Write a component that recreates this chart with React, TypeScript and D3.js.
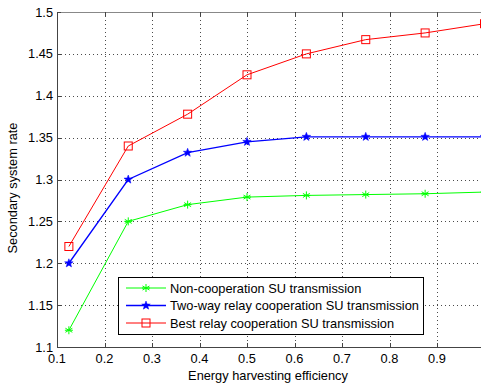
import React from "react";
import * as d3 from "d3";

const xValues = [0.125, 0.25, 0.375, 0.5, 0.625, 0.75, 0.875, 1.0];
const nonCoop = [1.12, 1.25, 1.27, 1.279, 1.281, 1.282, 1.283, 1.285];
const twoWay = [1.2, 1.3, 1.332, 1.345, 1.351, 1.351, 1.351, 1.351];
const bestRelay = [1.22, 1.34, 1.378, 1.425, 1.45, 1.467, 1.475, 1.486];
const xTicks = [0.1, 0.2, 0.3, 0.4, 0.5, 0.6, 0.7, 0.8, 0.9];
const yTicks = [1.1, 1.15, 1.2, 1.25, 1.3, 1.35, 1.4, 1.45, 1.5];
const seriesNames = [
  "Non-cooperation SU transmission",
  "Two-way relay cooperation SU transmission",
  "Best relay cooperation SU transmission",
];

const W = 481, H = 383;
const L = 57, T = 12, B = 347;
const x = d3.scaleLinear().domain([0.1, 1.0]).range([L, 484.5]);
const y = d3.scaleLinear().domain([1.1, 1.5]).range([B, T]);
const font = "'Liberation Sans', Arial, sans-serif";

function Marker({ kind, cx, cy, color }: { kind: string; cx: number; cy: number; color: string }) {
  if (kind === "square") {
    return <rect x={cx - 4} y={cy - 4} width={8} height={8} fill="none" stroke={color} strokeWidth={1} />;
  }
  if (kind === "asterisk") {
    const r = 4;
    const segs = [0, 60, 120].map((a) => {
      const rad = (a * Math.PI) / 180;
      return { dx: r * Math.sin(rad), dy: r * Math.cos(rad) };
    });
    return (
      <g stroke={color} strokeWidth={1}>
        {segs.map((s, i) => (
          <line key={i} x1={cx - s.dx} y1={cy - s.dy} x2={cx + s.dx} y2={cy + s.dy} />
        ))}
        <line x1={cx - r} y1={cy} x2={cx + r} y2={cy} />
      </g>
    );
  }
  const pts: string[] = [];
  for (let i = 0; i < 10; i++) {
    const r = i % 2 === 0 ? 4.5 : 1.9;
    const a = (i * Math.PI) / 5 - Math.PI / 2;
    pts.push(`${cx + r * Math.cos(a)},${cy + r * Math.sin(a)}`);
  }
  return <polygon points={pts.join(" ")} fill={color} stroke={color} strokeWidth={0.5} />;
}

export default function App() {
  const series = [
    { name: seriesNames[0], data: nonCoop, color: "#00ff00", marker: "asterisk", w: 1 },
    { name: seriesNames[1], data: twoWay, color: "#0000ff", marker: "star", w: 1.3 },
    { name: seriesNames[2], data: bestRelay, color: "#ff0000", marker: "square", w: 1 },
  ];
  const line = d3
    .line<number>()
    .x((_, i) => x(xValues[i]))
    .y((d) => y(d));
  const legX = 118, legY = 277, legW = 305, legH = 57;
  const rowY = [288, 305.5, 323];
  return (
    <svg width={W} height={H} style={{ position: "absolute", left: 0, top: 0, background: "#fff" }} fontFamily={font}>
      <rect x={0} y={0} width={W} height={H} fill="#fff" />
      <g stroke="#000" strokeWidth={1} strokeDasharray="1,3" opacity={0.7}>
        {xTicks.slice(1).map((t) => (
          <line key={"gx" + t} x1={Math.round(x(t)) + 0.5} x2={Math.round(x(t)) + 0.5} y1={T} y2={B} />
        ))}
        {yTicks.slice(1, -1).map((t) => (
          <line key={"gy" + t} x1={L} x2={W} y1={Math.round(y(t)) + 0.5} y2={Math.round(y(t)) + 0.5} />
        ))}
      </g>
      <g stroke="#444" strokeWidth={1}>
        <line x1={L + 0.5} x2={L + 0.5} y1={T} y2={B + 0.5} />
        <line x1={L} x2={W} y1={B + 0.5} y2={B + 0.5} />
        <line x1={L} x2={W} y1={T + 0.5} y2={T + 0.5} stroke="#888" />
        {xTicks.map((t) => (
          <g key={"tx" + t}>
            <line x1={Math.round(x(t)) + 0.5} x2={Math.round(x(t)) + 0.5} y1={B} y2={B - 4} />
            <line x1={Math.round(x(t)) + 0.5} x2={Math.round(x(t)) + 0.5} y1={T} y2={T + 4} />
          </g>
        ))}
        {yTicks.map((t) => (
          <line key={"ty" + t} x1={L} x2={L + 4} y1={Math.round(y(t)) + 0.5} y2={Math.round(y(t)) + 0.5} />
        ))}
      </g>
      <g fontSize={12.8} fill="#000">
        {xTicks.map((t) => (
          <text key={"lx" + t} x={x(t)} y={B + 16} textAnchor="middle">
            {String(t)}
          </text>
        ))}
        {yTicks.map((t) => (
          <text key={"ly" + t} x={L - 4} y={y(t) + 4.5} textAnchor="end">
            {String(t)}
          </text>
        ))}
      </g>
      <text x={268} y={380} textAnchor="middle" fontSize={12.8}>
        Energy harvesting efficiency
      </text>
      <text transform={`translate(17,188) rotate(-90)`} textAnchor="middle" fontSize={12.8}>
        Secondary system rate
      </text>
      <defs>
        <clipPath id="plotclip">
          <rect x={L} y={T - 6} width={W - L} height={B - T + 12} />
        </clipPath>
      </defs>
      <g clipPath="url(#plotclip)">
        {series.map((s) => (
          <g key={s.name}>
            <path d={line(s.data) || ""} fill="none" stroke={s.color} strokeWidth={s.w} />
            {s.data.map((v, i) => (
              <Marker key={i} kind={s.marker} cx={x(xValues[i])} cy={y(v)} color={s.color} />
            ))}
          </g>
        ))}
      </g>
      <rect x={legX + 0.5} y={legY + 0.5} width={legW} height={legH} fill="#fff" stroke="#000" strokeWidth={1} />
      {series.map((s, i) => (
        <g key={"leg" + i}>
          <line x1={126} x2={166} y1={rowY[i]} y2={rowY[i]} stroke={s.color} strokeWidth={s.w} />
          <Marker kind={s.marker} cx={146} cy={rowY[i]} color={s.color} />
          <text x={170} y={rowY[i] + 4.5} fontSize={12.8}>
            {s.name}
          </text>
        </g>
      ))}
    </svg>
  );
}
